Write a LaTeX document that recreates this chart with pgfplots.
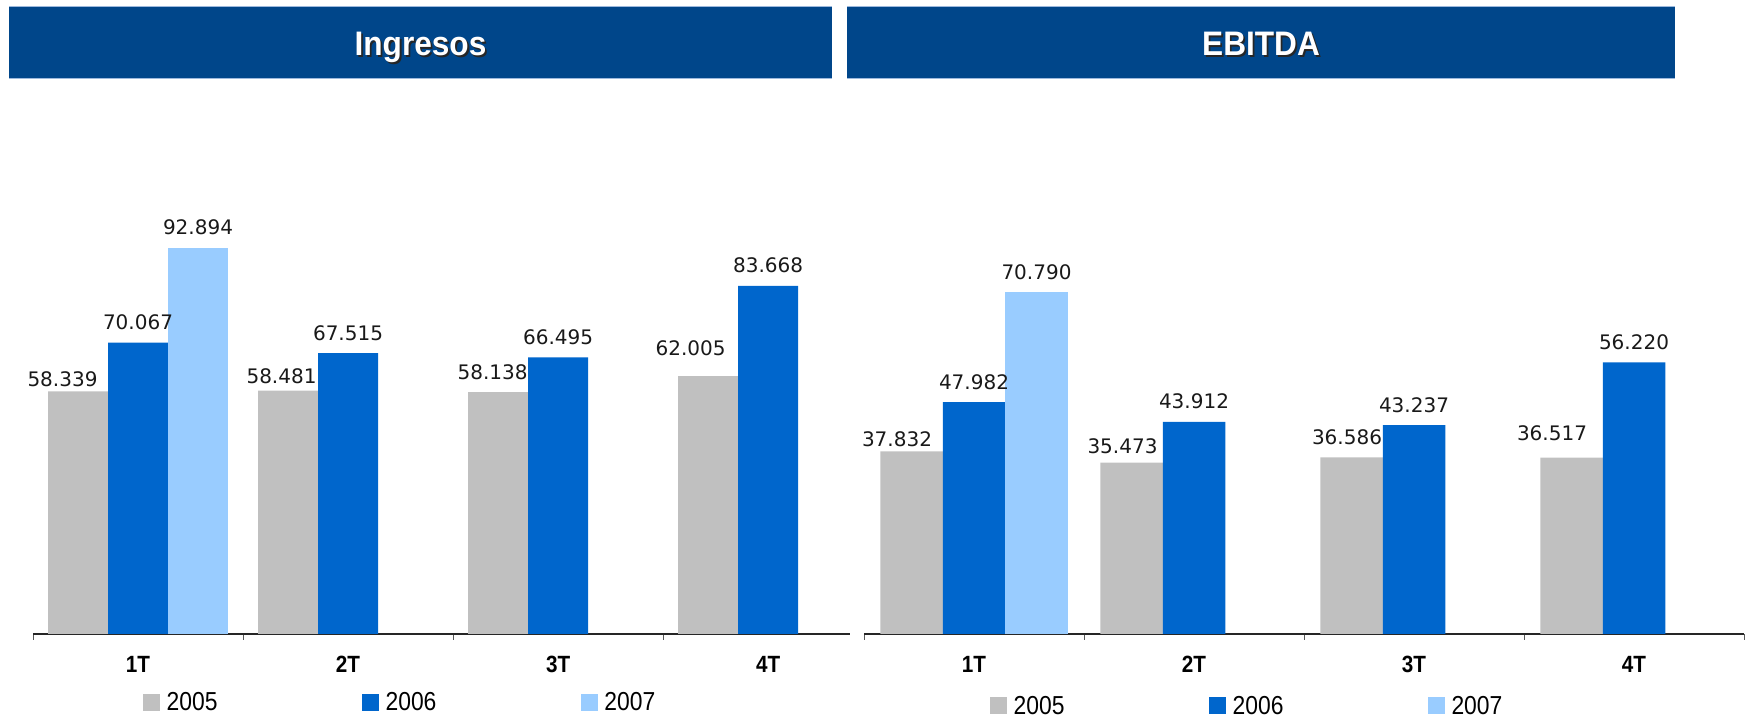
\documentclass[border=0pt]{standalone}
\usepackage{fontspec}
\setmainfont{Liberation Sans}
\newfontfamily\narrowfont[FakeStretch=0.88]{Liberation Sans}
\newfontfamily\titlefont[FakeStretch=0.93]{Liberation Sans}
\newfontfamily\labelfont{DejaVu Sans}
\usepackage{pgfplots}
\usepackage{pgfplotstable}
\pgfplotsset{compat=1.18}

\definecolor{gris}{HTML}{C0C0C0}
\definecolor{azul}{HTML}{0066CC}
\definecolor{celeste}{HTML}{99CCFF}
\definecolor{barra}{HTML}{00468A}
\definecolor{borde}{HTML}{9DB9DD}

% 2005 lleva desplazamientos propios de la etiqueta (dx, dy en pt)
\pgfplotstableread{
x y lab dx dy
0 58.339 58.339 -15.5 -8
1 58.481 58.481 -6.5 -6
2 58.138 58.138 -5.5 0
3 62.005 62.005 -17.5 8
}\ingA
\pgfplotstableread{
x y lab
0 70.067 70.067
1 67.515 67.515
2 66.495 66.495
3 83.668 83.668
}\ingB
\pgfplotstableread{
x y lab dx dy
0 37.832 37.832 -14.5 -8
1 35.473 35.473 -9 -4
2 36.586 36.586 -4.5 0
3 36.517 36.517 -19.5 4
}\ebA
\pgfplotstableread{
x y lab
0 47.982 47.982
1 43.912 43.912
2 43.237 43.237
3 56.220 56.220
}\ebB

\pgfplotsset{
  trimestre/.style={
    scale only axis, anchor=south west,
    ybar=0pt, ymin=0, enlargelimits=false, clip=false,
    axis y line=none, axis x line=bottom,
    x axis line style={-, black!85, line width=1.2pt},
    xtick={0,1,2,3}, xticklabels={1T,2T,3T,4T},
    major tick length=0pt, minor tick length=6pt, tick align=outside,
    minor tick style={black!65, line width=1pt},
    xticklabel style={font=\narrowfont\bfseries\fontsize{23.5}{24}\selectfont,
      anchor=base, yshift=-39pt},
    nodes near coords, point meta=explicit symbolic,
    every node near coord/.append style={
      font=\labelfont\fontsize{20}{21}\selectfont,
      anchor=base, inner sep=0pt, yshift=13pt, text=black!90},
    legend columns=3,
    legend image code/.code={\fill[##1] (0pt,-8.5pt) rectangle (17pt,8.5pt);},
    legend style={draw=none, fill=none, inner sep=0pt, anchor=west,
      font=\narrowfont\fontsize{26}{27}\selectfont,
      nodes={inner xsep=6.5pt, inner ysep=0pt},
      /tikz/every even column/.append style={column sep=138pt}},
  },
  gris2005/.style={fill=gris, draw=none,
    visualization depends on={\thisrow{dx}\as\dx},
    visualization depends on={\thisrow{dy}\as\dy},
    nodes near coords style={xshift=\dx pt, yshift=\dy pt}},
}

\begin{document}
\begin{tikzpicture}
\path[use as bounding box] (0pt,0pt) rectangle (1749pt,719pt);

\begin{axis}[trimestre, at={(33pt,85pt)}, width=817pt, height=416pt,
  xmin=-0.5, xmax=3.39, ymax=100, bar width=60pt,
  minor xtick={-0.5,0.5,1.5,2.5},
  legend style={at={(0.1346,-0.1647)}}]
\addplot[gris2005] table[x=x, y=y, meta=lab] {\ingA};
\addplot[fill=azul, draw=none] table[x=x, y=y, meta=lab] {\ingB};
\addplot[fill=celeste, draw=none] coordinates {(0,92.894) [92.894]};
\legend{2005,2006,2007}
\end{axis}

\begin{axis}[trimestre, at={(864pt,85pt)}, width=880pt, height=386.4pt,
  xmin=-0.5, xmax=3.5, ymax=80, bar width=62.5pt,
  minor xtick={-0.5,0.5,1.5,2.5,3.5},
  legend style={at={(0.1432,-0.1863)}}]
\addplot[gris2005] table[x=x, y=y, meta=lab] {\ebA};
\addplot[fill=azul, draw=none] table[x=x, y=y, meta=lab] {\ebB};
\addplot[fill=celeste, draw=none] coordinates {(0,70.790) [70.790]};
\legend{2005,2006,2007}
\end{axis}

% barras de titulo
\foreach \xa/\xb/\txt in {9/832/Ingresos, 847/1675/EBITDA}{
  \fill[barra] (\xa pt,640pt) rectangle (\xb pt,713pt);
  \draw[borde, line width=1pt] (\xa pt,640.5pt) -- (\xb pt,640.5pt)
    (\xa pt,712.5pt) -- (\xb pt,712.5pt);
  \node[anchor=base, text=black!85, font=\titlefont\bfseries\fontsize{34}{36}\selectfont]
    at ({(\xa+\xb)/2*1pt+1.8pt},661.2pt) {\txt};
  \node[anchor=base, text=white, font=\titlefont\bfseries\fontsize{34}{36}\selectfont]
    at ({(\xa+\xb)/2*1pt},663pt) {\txt};
}
\end{tikzpicture}
\end{document}
